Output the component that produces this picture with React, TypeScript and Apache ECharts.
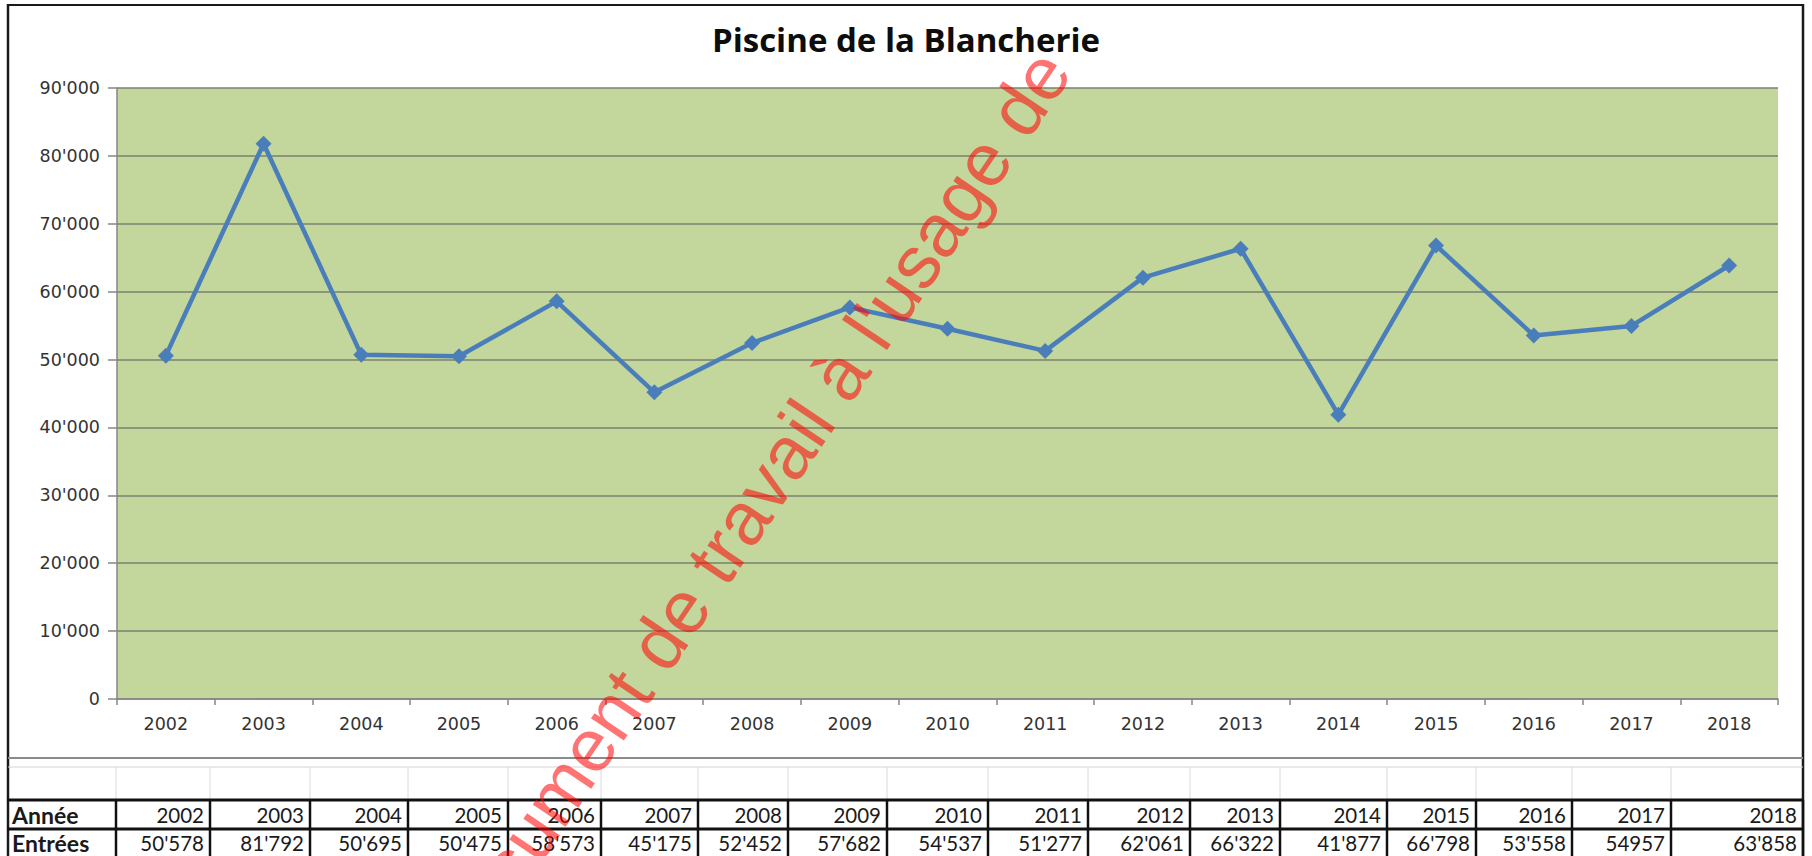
import React, { useEffect, useRef } from "react";
import * as echarts from "echarts";

// ---------- data ----------
const chartTitle = "Piscine de la Blancherie";
const years = ["2002", "2003", "2004", "2005", "2006", "2007", "2008", "2009", "2010", "2011", "2012", "2013", "2014", "2015", "2016", "2017", "2018"];
const entrees = [50578, 81792, 50695, 50475, 58573, 45175, 52452, 57682, 54537, 51277, 62061, 66322, 41877, 66798, 53558, 54957, 63858];
const rowLabels = ["Année", "Entrées"];
const plainNumberYears = ["2017"]; // this cell is written without thousands separator in the source table
const yMin = 0;
const yMax = 90000;
const yStep = 10000;
const watermarkText = "Document de travail à l'usage de";

// ---------- layout ----------
const W = 1812;
const H = 856;
const tableColRight = [116, 210, 310, 408, 508, 601, 698, 788, 887, 988, 1088, 1190, 1280, 1387, 1476, 1572, 1671, 1803];

function fmt(v: number): string {
  return String(v).replace(/\B(?=(\d{3})+(?!\d))/g, "'");
}

function txt(x: number, y: number, text: string, opts: any = {}) {
  const align = opts.align || "left";
  return {
    type: "text",
    x,
    y,
    z: opts.z ?? 20,
    rotation: opts.rotation || 0,
    style: {
      text,
      fill: opts.fill || "#1a1a1a",
      fontSize: opts.fontSize || 20,
      fontFamily: opts.fontFamily || "Lato",
      fontWeight: opts.fontWeight || "normal",
      align,
      textAlign: align,
      verticalAlign: "middle",
      textVerticalAlign: "middle",
    },
  };
}

function ln(x1: number, y1: number, x2: number, y2: number, stroke: string, lineWidth: number, z = 10) {
  return { type: "line", z, shape: { x1, y1, x2, y2 }, style: { stroke, lineWidth } };
}

export default function App() {
  const ref = useRef<HTMLDivElement>(null);

  useEffect(() => {
    const chart = echarts.init(ref.current!, null, { renderer: "svg" });
    const g: any[] = [];

    // chart frame
    g.push(ln(8, 5, 1803, 5, "#1a1a1a", 2));
    g.push(ln(8, 4, 8, H, "#1a1a1a", 2.5));
    g.push(ln(1803, 4, 1803, H, "#1a1a1a", 2.5));
    g.push(ln(8, 758, 1803, 758, "#8a8a8a", 2));
    g.push(ln(8, 767, 1803, 767, "#d4d4d4", 1));

    // faint sheet gridlines between chart and table
    tableColRight.slice(0, -1).forEach((x) => g.push(ln(x, 767, x, 800, "#dadada", 1)));

    // table borders
    g.push(ln(7, 800, 1803, 800, "#111", 3));
    g.push(ln(7, 829, 1803, 829, "#111", 3));
    tableColRight.forEach((x) => g.push(ln(x, 800, x, H, "#111", 2.5)));

    // table texts
    g.push(txt(12, 815, rowLabels[0], { fontWeight: "bold", fontSize: 23 }));
    g.push(txt(12, 843, rowLabels[1], { fontWeight: "bold", fontSize: 23 }));
    years.forEach((yr, i) => {
      const right = tableColRight[i + 1] - 6;
      g.push(txt(right, 815, yr, { align: "right", fontSize: 20.5 }));
      const v = entrees[i];
      const s = plainNumberYears.includes(yr) ? String(v) : fmt(v);
      g.push(txt(right, 843, s, { align: "right", fontSize: 20.5 }));
    });

    // title
    g.push(txt(906, 39, chartTitle, { align: "center", fontSize: 33, fontWeight: "bold", fontFamily: "Open Sans", fill: "#0d0d0d" }));

    // watermark
    g.push(
      txt(748, 510, watermarkText, {
        align: "center",
        fontSize: 75,
        fontFamily: "Liberation Sans",
        fill: "rgba(255,0,0,0.55)",
        rotation: (56 * Math.PI) / 180,
        z: 100,
      })
    );

    chart.setOption({
      animation: false,
      backgroundColor: "#ffffff",
      grid: {
        left: 117,
        right: W - 1778,
        top: 88,
        bottom: H - 699,
        show: true,
        backgroundColor: "#C3D69B",
        borderWidth: 0,
      },
      xAxis: {
        type: "category",
        data: years,
        boundaryGap: true,
        axisLine: { show: true, lineStyle: { color: "#868686", width: 1.5 } },
        axisTick: { show: true, length: 6, lineStyle: { color: "#868686", width: 1.5 } },
        axisLabel: { color: "#333333", fontFamily: "DejaVu Sans", fontSize: 17.5, margin: 16 },
        splitLine: { show: false },
      },
      yAxis: {
        type: "value",
        min: yMin,
        max: yMax,
        interval: yStep,
        axisLine: { show: true, lineStyle: { color: "#868686", width: 1.5 } },
        axisTick: { show: true, length: 9, lineStyle: { color: "#868686", width: 1.5 } },
        axisLabel: {
          color: "#333333",
          fontFamily: "DejaVu Sans",
          fontSize: 17.5,
          margin: 17,
          formatter: (v: number) => fmt(v),
        },
        splitLine: { show: true, lineStyle: { color: "#7a8170", width: 1.5 } },
      },
      series: [
        {
          type: "line",
          data: entrees,
          symbol: "diamond",
          symbolSize: 16,
          lineStyle: { color: "#4A7EBB", width: 4.5 },
          itemStyle: { color: "#4A7EBB" },
          z: 5,
        },
      ],
      graphic: { elements: g },
    });

    return () => chart.dispose();
  }, []);

  return (
    <div
      ref={ref}
      style={{ position: "fixed", left: 0, top: 0, width: W, height: H, background: "#fff" }}
    />
  );
}
